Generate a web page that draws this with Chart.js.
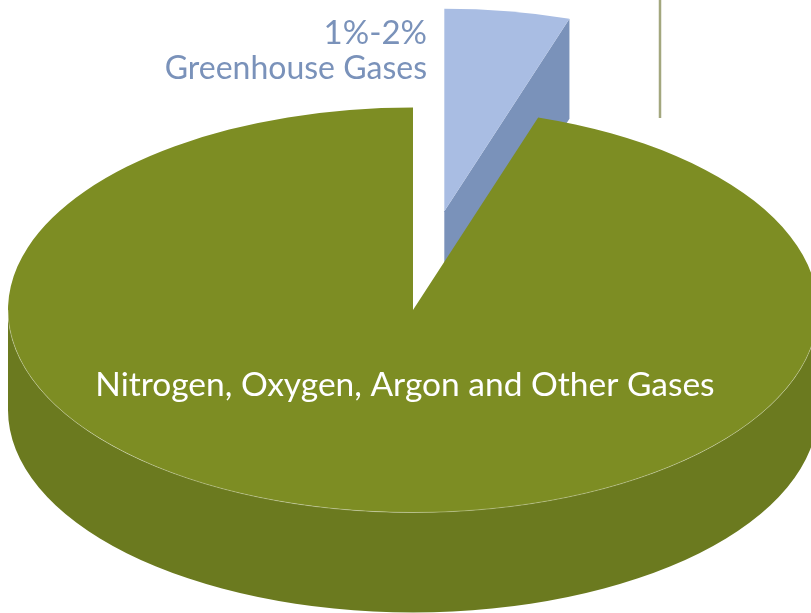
<!DOCTYPE html>
<html>
<head>
<meta charset="utf-8">
<script src="https://cdn.jsdelivr.net/npm/chart.js@4/dist/chart.umd.min.js"></script>
<style>
  html, body { margin: 0; padding: 0; background: #fff; overflow: hidden; }
  #wrap { position: absolute; left: 0; top: 0; width: 830px; height: 620px; }
</style>
</head>
<body>
<div id="wrap"><canvas id="pie"></canvas></div>
<script>
// data
const categories = ['Greenhouse Gases', 'Nitrogen, Oxygen, Argon and Other Gases'];
const shares     = [5, 95];
const shareText  = ['1%-2%', ''];
const topColors  = ['#A9BDE3', '#7D8D23'];
const sideColors = ['#7A92BA', '#6B7A1F'];
const explode    = [200, 0];

const TILT  = 0.5;   // ellipse ratio
const DEPTH = 100;   // thickness of the pie

// ─────────────────────────────────────────────────────────────
function drawSlice(ctx, cx, cy, rx, ry, a1, a2, top, side) {
  // cut faces that look toward the viewer
  const faces = [];
  if (Math.cos(a1) < -0.001) faces.push(a1);
  if (Math.cos(a2) >  0.001) faces.push(a2);
  faces.forEach(a => {
    const ex = cx + Math.cos(a) * rx, ey = cy + Math.sin(a) * ry;
    ctx.beginPath();
    ctx.moveTo(cx, cy);
    ctx.lineTo(ex, ey);
    ctx.lineTo(ex, ey + DEPTH);
    ctx.lineTo(cx, cy + DEPTH);
    ctx.closePath();
    ctx.fillStyle = side;
    ctx.fill();
  });

  // outer wall, front half only
  const walls = [];
  for (let k = -1; k <= 1; k++) {
    const lo = Math.max(a1, 2 * Math.PI * k);
    const hi = Math.min(a2, Math.PI + 2 * Math.PI * k);
    if (hi > lo) walls.push([lo, hi]);
  }
  walls.forEach(([lo, hi]) => {
    ctx.beginPath();
    ctx.ellipse(cx, cy, rx, ry, 0, lo, hi, false);
    ctx.ellipse(cx, cy + DEPTH, rx, ry, 0, hi, lo, true);
    ctx.closePath();
    ctx.fillStyle = side;
    ctx.fill();
  });

  // top face
  ctx.beginPath();
  ctx.moveTo(cx, cy);
  ctx.ellipse(cx, cy, rx, ry, 0, a1, a2, false);
  ctx.closePath();
  ctx.fillStyle = top;
  ctx.fill();

  walls.forEach(([lo, hi]) => {
    ctx.beginPath();
    ctx.ellipse(cx, cy, rx, ry, 0, lo, hi, false);
    ctx.strokeStyle = 'rgba(255,255,255,0.3)';
    ctx.lineWidth = 1;
    ctx.stroke();
  });
}

const pie3d = {
  id: 'pie3d',
  beforeDatasetsDraw(chart) {
    const ctx  = chart.ctx;
    const meta = chart.getDatasetMeta(0);
    ctx.save();
    meta.data.forEach((arc, i) => {
      const p   = arc.getProps(['x', 'y', 'startAngle', 'endAngle', 'outerRadius']);
      const mid = (p.startAngle + p.endAngle) / 2;
      const cx  = p.x + Math.cos(mid) * explode[i];
      const cy  = p.y + Math.sin(mid) * explode[i] * TILT;
      drawSlice(ctx, cx, cy, p.outerRadius, p.outerRadius * TILT,
                p.startAngle, p.endAngle, arc.options.backgroundColor, sideColors[i]);
    });
    ctx.restore();
    return false;
  },
  afterDraw(chart) {
    const ctx = chart.ctx;
    ctx.save();

    // leader line
    ctx.strokeStyle = '#A3A77E';
    ctx.lineWidth = 2.5;
    ctx.beginPath();
    ctx.moveTo(660, 0);
    ctx.lineTo(660, 118);
    ctx.stroke();

    // greenhouse label
    ctx.fillStyle = '#7A92BA';
    ctx.textAlign = 'right';
    ctx.textBaseline = 'alphabetic';
    ctx.font = '33px Lato, "Open Sans", sans-serif';
    ctx.fillText(shareText[0], 427, 44);
    ctx.font = '32px Lato, "Open Sans", sans-serif';
    ctx.fillText(categories[0], 427, 79);

    // main label
    ctx.fillStyle = '#ffffff';
    ctx.textAlign = 'center';
    ctx.font = '33.5px Lato, "Open Sans", sans-serif';
    ctx.fillText(categories[1], 405, 396);

    ctx.restore();
  }
};

new Chart(document.getElementById('pie'), {
  type: 'pie',
  data: {
    labels: categories,
    datasets: [{
      data: shares,
      backgroundColor: topColors,
      borderWidth: 0,
      radius: 405
    }]
  },
  options: {
    responsive: true,
    maintainAspectRatio: false,
    animation: false,
    layout: { padding: { left: 0, right: 4, top: 0, bottom: 0 } },
    plugins: {
      legend: { display: false },
      tooltip: { enabled: false }
    }
  },
  plugins: [pie3d]
});
</script>
</body>
</html>
